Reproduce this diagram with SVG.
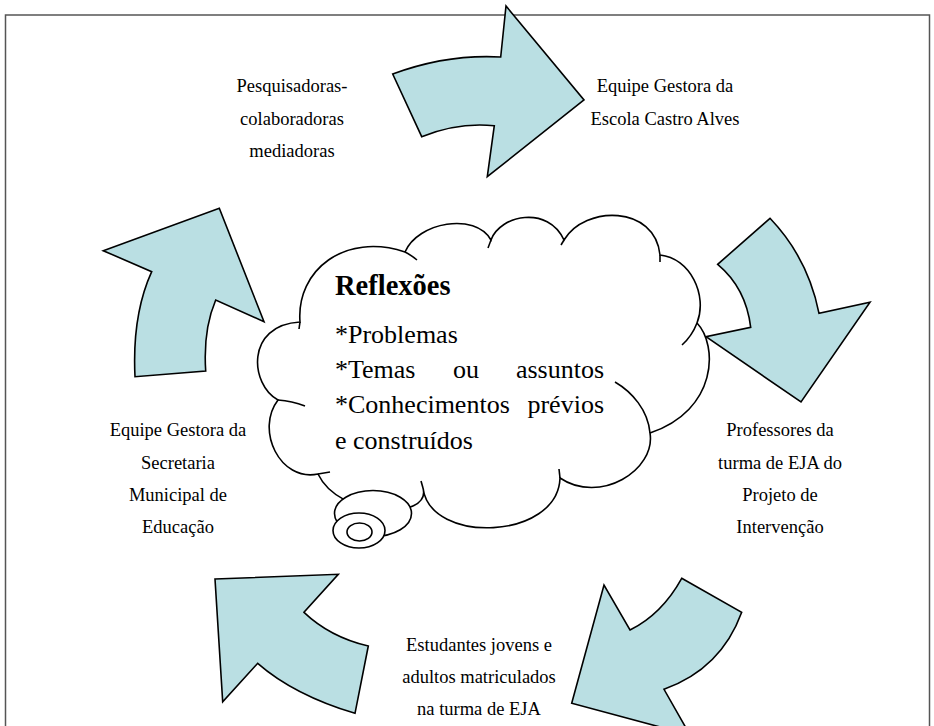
<svg xmlns="http://www.w3.org/2000/svg" width="934" height="726" viewBox="0 0 934 726">
<style>
.arrow{fill:#badfe3;stroke:#000;stroke-width:1.6;stroke-linejoin:miter}
.cl{fill:#fff;stroke:#000;stroke-width:1.6}
.ln{fill:none;stroke:#000;stroke-width:1.6}
text{font-family:'Liberation Serif','DejaVu Serif',serif}
.lbl{font-size:18.5px;fill:#000;text-anchor:middle}
.ct{font-size:26px;fill:#000}
.ctb{font-size:28.5px;font-weight:bold;fill:#000}
</style>
<rect x="0" y="0" width="934" height="726" fill="#fff"/>
<rect x="5.5" y="15" width="924" height="720" fill="none" stroke="#555" stroke-width="1.5"/>
<g id="connectors">
<path class="arrow" d="M392.7,74 Q446.7,54 500.7,57 L506,6 L584,100 L487.3,176.7 L494.3,125.7 Q458,122 421.7,136.7 Z"/>
<path class="arrow" d="M770,218.3 Q808,258 819,313.3 L870,302.3 L801,402 L706,336.7 L750.7,327.3 Q746,288 717.7,264.3 Z"/>
<path class="arrow" d="M681.7,578.3 L741.7,612.3 Q721,669 664,689.3 L690,735 L571.7,703.3 L604,585 L630,630 Q662,614 681.7,578.3 Z"/>
<path class="arrow" d="M215,579 L338.3,574.3 L304,612.3 Q330,637 368.3,646 L355,713.3 Q294,695 257.7,663.3 L222.7,701.7 Z"/>
<path class="arrow" d="M103.3,250.7 L219.3,208.3 L264,321.7 L215.7,300 Q203,330 205.7,371 L135,376.7 Q132,315 151.7,271.7 Z"/>
</g>
<g id="cloud" font-family="Liberation Serif, serif">
<path class="cl" d="M300,322 C296,270 345,232 405,252 C418,222 475,212 491,240 C500,215 548,205 564,240 C585,205 655,205 660,255 C690,258 708,295 697,323 C718,345 718,410 650,433 C656,470 600,505 560,478 C558,540 430,545 423,488 C432,520 340,520 318,474 C280,482 255,430 278,400 C250,385 245,325 300,322 Z"/>
<path class="ln" d="M300,322 L299,329"/>
<path class="ln" d="M405,252 Q411,255 417,260"/>
<path class="ln" d="M491,240 L488,248"/>
<path class="ln" d="M564,240 L561,245"/>
<path class="ln" d="M660,255 L660,262"/>
<path class="ln" d="M697,323 Q692,336 682,345"/>
<path class="ln" d="M615,382 C632,392 648,410 650,433"/>
<path class="ln" d="M560,478 L559,469"/>
<path class="ln" d="M423,488 L421,481"/>
<path class="ln" d="M318,474 L330,472"/>
<path class="ln" d="M278,400 Q292,401 305,406"/>
<ellipse class="cl" cx="373" cy="513.5" rx="38.5" ry="23"/>
<ellipse class="cl" cx="359" cy="530.5" rx="26" ry="17.5"/>
<ellipse class="cl" cx="359.5" cy="532" rx="12.5" ry="9"/>
<text class="ctb" x="335" y="295">Reflexões</text>
<text class="ct" x="335" y="342.5">*Problemas</text>
<text class="ct" x="335" y="378">*Temas</text>
<text class="ct" x="466" y="378" text-anchor="middle">ou</text>
<text class="ct" x="604" y="378" text-anchor="end">assuntos</text>
<text class="ct" x="335" y="413">*Conhecimentos</text>
<text class="ct" x="604" y="413" text-anchor="end">prévios</text>
<text class="ct" x="335" y="448.5">e construídos</text>
</g>
<g id="pesquisadoras">
<text class="lbl" x="292" y="92">Pesquisadoras-</text>
<text class="lbl" x="292" y="124.5">colaboradoras</text>
<text class="lbl" x="292" y="157">mediadoras</text>
</g>
<g id="gestora-escola">
<text class="lbl" x="665" y="92">Equipe Gestora da</text>
<text class="lbl" x="665" y="124.5">Escola Castro Alves</text>
</g>
<g id="professores">
<text class="lbl" x="780" y="436">Professores da</text>
<text class="lbl" x="780" y="468.5">turma de EJA do</text>
<text class="lbl" x="780" y="501">Projeto de</text>
<text class="lbl" x="780" y="533">Intervenção</text>
</g>
<g id="estudantes">
<text class="lbl" x="479" y="651">Estudantes jovens e</text>
<text class="lbl" x="479" y="683">adultos matriculados</text>
<text class="lbl" x="479" y="715">na turma de EJA</text>
</g>
<g id="gestora-secretaria">
<text class="lbl" x="178" y="436">Equipe Gestora da</text>
<text class="lbl" x="178" y="468.5">Secretaria</text>
<text class="lbl" x="178" y="501">Municipal de</text>
<text class="lbl" x="178" y="533">Educação</text>
</g>
</svg>
